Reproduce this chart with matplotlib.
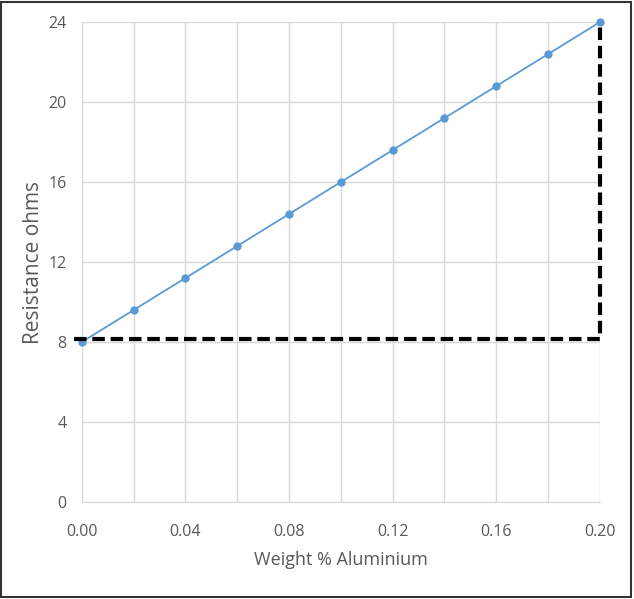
import numpy as np
import matplotlib.pyplot as plt
from matplotlib.patches import Rectangle

# 데이터
weight_pct = [0.00, 0.02, 0.04, 0.06, 0.08, 0.10, 0.12, 0.14, 0.16, 0.18, 0.20]
resistance = [8.0, 9.6, 11.2, 12.8, 14.4, 16.0, 17.6, 19.2, 20.8, 22.4, 24.0]
x_ticks = [0.00, 0.04, 0.08, 0.12, 0.16, 0.20]
y_ticks = [0, 4, 8, 12, 16, 20, 24]
guide_y = 8.15
guide_x = 0.20

plt.rcParams['font.family'] = ['Open Sans', 'DejaVu Sans']

fig = plt.figure(figsize=(6.34, 5.99), dpi=100)
ax = fig.add_axes([0.129, 0.162, 0.817, 0.801])

# 격자
ax.set_xticks(np.arange(0, 0.2001, 0.02), minor=True)
ax.grid(which='both', axis='x', color='#d9d9d9', linewidth=1)
ax.grid(which='major', axis='y', color='#d9d9d9', linewidth=1)
ax.set_axisbelow(True)

# 데이터 선
ax.plot(weight_pct, resistance, color='#5b9bd5', linewidth=1.3,
        marker='o', markersize=5, zorder=3, clip_on=False)

# 점선 안내선
ax.plot([-0.003, guide_x, guide_x], [guide_y, guide_y, 24], color='black',
        linewidth=3, linestyle=(0, (3, 1.4)), zorder=4, clip_on=False,
        dash_capstyle='butt', solid_joinstyle='miter')

ax.set_xlim(0, 0.20)
ax.set_ylim(0, 24)
ax.set_xticks(x_ticks)
ax.set_xticklabels([f'{v:.2f}' for v in x_ticks])
ax.set_yticks(y_ticks)

for s in ['top', 'right']:
    ax.spines[s].set_visible(False)
for s in ['left', 'bottom']:
    ax.spines[s].set_color('#d9d9d9')
ax.tick_params(which='both', length=0, colors='#595959', labelsize=11.5)
ax.tick_params(axis='x', pad=16)
ax.tick_params(axis='y', pad=11)

ax.set_xlabel('Weight % Aluminium', fontsize=13, color='#595959', labelpad=8)
ax.set_ylabel('Resistance ohms', fontsize=15, color='#595959', labelpad=3)

# 바깥 테두리
fig.patches.append(Rectangle((0.002, 0.004), 0.994, 0.992, transform=fig.transFigure,
                             fill=False, edgecolor='#333333', linewidth=1.5))

fig.savefig('out.png', dpi=100)
